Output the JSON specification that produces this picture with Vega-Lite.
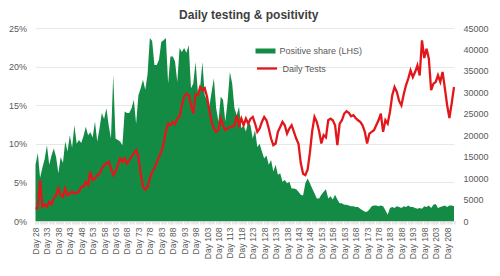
{
  "$schema": "https://vega.github.io/schema/vega-lite/v6.json",
  "width": 418.5,
  "height": 193,
  "autosize": {"type": "none"},
  "padding": {"left": 35.5, "top": 28, "right": 46, "bottom": 55},
  "background": "white",
  "title": {
    "text": "Daily testing & positivity",
    "font": "Liberation Sans",
    "fontSize": 12,
    "fontWeight": "bold",
    "color": "#404040",
    "offset": 2,
    "dx": 4
  },
  "config": {
    "view": {"stroke": null},
    "font": "Liberation Sans"
  },
  "data": {
    "values": [
      {"day": "Day 28", "pos": 7.3, "tests": 2950},
      {"day": "Day 29", "pos": 8.8, "tests": 3000},
      {"day": "Day 30", "pos": 5.6, "tests": 9540},
      {"day": "Day 31", "pos": 6.9, "tests": 3330},
      {"day": "Day 32", "pos": 8.0, "tests": 3880},
      {"day": "Day 33", "pos": 9.8, "tests": 3330},
      {"day": "Day 34", "pos": 7.3, "tests": 4490},
      {"day": "Day 35", "pos": 8.5, "tests": 3880},
      {"day": "Day 36", "pos": 9.4, "tests": 5270},
      {"day": "Day 37", "pos": 8.3, "tests": 6000},
      {"day": "Day 38", "pos": 6.2, "tests": 7600},
      {"day": "Day 39", "pos": 8.3, "tests": 6000},
      {"day": "Day 40", "pos": 7.5, "tests": 5640},
      {"day": "Day 41", "pos": 10.3, "tests": 7600},
      {"day": "Day 42", "pos": 9.0, "tests": 6000},
      {"day": "Day 43", "pos": 11.1, "tests": 6440},
      {"day": "Day 44", "pos": 9.5, "tests": 6820},
      {"day": "Day 45", "pos": 12.4, "tests": 6440},
      {"day": "Day 46", "pos": 10.0, "tests": 6600},
      {"day": "Day 47", "pos": 10.5, "tests": 6820},
      {"day": "Day 48", "pos": 10.1, "tests": 7980},
      {"day": "Day 49", "pos": 11.0, "tests": 8000},
      {"day": "Day 50", "pos": 12.2, "tests": 9150},
      {"day": "Day 51", "pos": 11.1, "tests": 8370},
      {"day": "Day 52", "pos": 11.5, "tests": 11470},
      {"day": "Day 53", "pos": 10.8, "tests": 9540},
      {"day": "Day 54", "pos": 12.9, "tests": 9930},
      {"day": "Day 55", "pos": 10.3, "tests": 10700},
      {"day": "Day 56", "pos": 12.0, "tests": 11000},
      {"day": "Day 57", "pos": 14.0, "tests": 12260},
      {"day": "Day 58", "pos": 13.2, "tests": 13030},
      {"day": "Day 59", "pos": 14.6, "tests": 13400},
      {"day": "Day 60", "pos": 12.4, "tests": 13790},
      {"day": "Day 61", "pos": 10.7, "tests": 12260},
      {"day": "Day 62", "pos": 18.9, "tests": 10700},
      {"day": "Day 63", "pos": 10.7, "tests": 11470},
      {"day": "Day 64", "pos": 10.5, "tests": 13030},
      {"day": "Day 65", "pos": 10.3, "tests": 14580},
      {"day": "Day 66", "pos": 9.8, "tests": 13790},
      {"day": "Day 67", "pos": 14.2, "tests": 14580},
      {"day": "Day 68", "pos": 14.0, "tests": 13400},
      {"day": "Day 69", "pos": 14.0, "tests": 14200},
      {"day": "Day 70", "pos": 14.6, "tests": 14970},
      {"day": "Day 71", "pos": 15.7, "tests": 15750},
      {"day": "Day 72", "pos": 12.6, "tests": 16510},
      {"day": "Day 73", "pos": 16.3, "tests": 14970},
      {"day": "Day 74", "pos": 17.2, "tests": 11000},
      {"day": "Day 75", "pos": 18.3, "tests": 8000},
      {"day": "Day 76", "pos": 17.0, "tests": 7300},
      {"day": "Day 77", "pos": 19.0, "tests": 8000},
      {"day": "Day 78", "pos": 23.7, "tests": 9930},
      {"day": "Day 79", "pos": 23.3, "tests": 11500},
      {"day": "Day 80", "pos": 20.2, "tests": 12260},
      {"day": "Day 81", "pos": 20.2, "tests": 13600},
      {"day": "Day 82", "pos": 20.9, "tests": 14960},
      {"day": "Day 83", "pos": 23.2, "tests": 16120},
      {"day": "Day 84", "pos": 23.4, "tests": 18000},
      {"day": "Day 85", "pos": 23.7, "tests": 21000},
      {"day": "Day 86", "pos": 17.8, "tests": 22720},
      {"day": "Day 87", "pos": 21.3, "tests": 22330},
      {"day": "Day 88", "pos": 21.3, "tests": 23100},
      {"day": "Day 89", "pos": 20.7, "tests": 22600},
      {"day": "Day 90", "pos": 18.0, "tests": 23880},
      {"day": "Day 91", "pos": 22.4, "tests": 24300},
      {"day": "Day 92", "pos": 21.9, "tests": 26980},
      {"day": "Day 93", "pos": 22.4, "tests": 28920},
      {"day": "Day 94", "pos": 21.8, "tests": 29700},
      {"day": "Day 95", "pos": 22.8, "tests": 29310},
      {"day": "Day 96", "pos": 17.2, "tests": 26980},
      {"day": "Day 97", "pos": 17.8, "tests": 25050},
      {"day": "Day 98", "pos": 20.6, "tests": 29500},
      {"day": "Day 99", "pos": 16.7, "tests": 29310},
      {"day": "Day 100", "pos": 17.4, "tests": 31240},
      {"day": "Day 101", "pos": 20.6, "tests": 30500},
      {"day": "Day 102", "pos": 16.3, "tests": 31000},
      {"day": "Day 103", "pos": 15.7, "tests": 29000},
      {"day": "Day 104", "pos": 14.8, "tests": 25800},
      {"day": "Day 105", "pos": 16.7, "tests": 23100},
      {"day": "Day 106", "pos": 18.5, "tests": 21560},
      {"day": "Day 107", "pos": 14.6, "tests": 20780},
      {"day": "Day 108", "pos": 12.9, "tests": 21170},
      {"day": "Day 109", "pos": 16.1, "tests": 23880},
      {"day": "Day 110", "pos": 15.7, "tests": 22330},
      {"day": "Day 111", "pos": 12.9, "tests": 21170},
      {"day": "Day 112", "pos": 15.5, "tests": 21560},
      {"day": "Day 113", "pos": 19.3, "tests": 21940},
      {"day": "Day 114", "pos": 17.8, "tests": 21940},
      {"day": "Day 115", "pos": 14.6, "tests": 22330},
      {"day": "Day 116", "pos": 13.7, "tests": 24660},
      {"day": "Day 117", "pos": 14.8, "tests": 22330},
      {"day": "Day 118", "pos": 12.0, "tests": 23880},
      {"day": "Day 119", "pos": 12.4, "tests": 22330},
      {"day": "Day 120", "pos": 11.6, "tests": 23880},
      {"day": "Day 121", "pos": 12.9, "tests": 22720},
      {"day": "Day 122", "pos": 12.4, "tests": 23800},
      {"day": "Day 123", "pos": 10.7, "tests": 24260},
      {"day": "Day 124", "pos": 11.8, "tests": 22720},
      {"day": "Day 125", "pos": 9.6, "tests": 20780},
      {"day": "Day 126", "pos": 10.0, "tests": 21560},
      {"day": "Day 127", "pos": 9.0, "tests": 23100},
      {"day": "Day 128", "pos": 8.1, "tests": 24260},
      {"day": "Day 129", "pos": 8.5, "tests": 23490},
      {"day": "Day 130", "pos": 7.3, "tests": 21560},
      {"day": "Day 131", "pos": 7.9, "tests": 19230},
      {"day": "Day 132", "pos": 6.4, "tests": 17680},
      {"day": "Day 133", "pos": 7.3, "tests": 18060},
      {"day": "Day 134", "pos": 6.0, "tests": 20780},
      {"day": "Day 135", "pos": 6.2, "tests": 21940},
      {"day": "Day 136", "pos": 5.1, "tests": 23100},
      {"day": "Day 137", "pos": 5.3, "tests": 22330},
      {"day": "Day 138", "pos": 4.9, "tests": 20390},
      {"day": "Day 139", "pos": 5.1, "tests": 21560},
      {"day": "Day 140", "pos": 4.2, "tests": 22330},
      {"day": "Day 141", "pos": 4.2, "tests": 20780},
      {"day": "Day 142", "pos": 4.1, "tests": 19230},
      {"day": "Day 143", "pos": 3.8, "tests": 18000},
      {"day": "Day 144", "pos": 3.4, "tests": 13500},
      {"day": "Day 145", "pos": 3.3, "tests": 11000},
      {"day": "Day 146", "pos": 4.9, "tests": 10700},
      {"day": "Day 147", "pos": 5.5, "tests": 12000},
      {"day": "Day 148", "pos": 4.9, "tests": 16000},
      {"day": "Day 149", "pos": 4.2, "tests": 21000},
      {"day": "Day 150", "pos": 3.6, "tests": 24260},
      {"day": "Day 151", "pos": 2.9, "tests": 23100},
      {"day": "Day 152", "pos": 2.9, "tests": 21000},
      {"day": "Day 153", "pos": 3.4, "tests": 18060},
      {"day": "Day 154", "pos": 3.8, "tests": 20000},
      {"day": "Day 155", "pos": 4.1, "tests": 19500},
      {"day": "Day 156", "pos": 2.9, "tests": 23490},
      {"day": "Day 157", "pos": 3.2, "tests": 23880},
      {"day": "Day 158", "pos": 2.8, "tests": 23490},
      {"day": "Day 159", "pos": 3.4, "tests": 22330},
      {"day": "Day 160", "pos": 2.8, "tests": 17680},
      {"day": "Day 161", "pos": 2.3, "tests": 22720},
      {"day": "Day 162", "pos": 2.3, "tests": 23490},
      {"day": "Day 163", "pos": 2.1, "tests": 25050},
      {"day": "Day 164", "pos": 2.1, "tests": 25600},
      {"day": "Day 165", "pos": 2.0, "tests": 25200},
      {"day": "Day 166", "pos": 1.9, "tests": 24400},
      {"day": "Day 167", "pos": 1.9, "tests": 24660},
      {"day": "Day 168", "pos": 1.8, "tests": 24000},
      {"day": "Day 169", "pos": 1.8, "tests": 23490},
      {"day": "Day 170", "pos": 1.6, "tests": 23100},
      {"day": "Day 171", "pos": 1.4, "tests": 22330},
      {"day": "Day 172", "pos": 1.2, "tests": 20780},
      {"day": "Day 173", "pos": 1.2, "tests": 18060},
      {"day": "Day 174", "pos": 1.5, "tests": 20390},
      {"day": "Day 175", "pos": 1.9, "tests": 20780},
      {"day": "Day 176", "pos": 2.0, "tests": 21170},
      {"day": "Day 177", "pos": 2.0, "tests": 22330},
      {"day": "Day 178", "pos": 1.9, "tests": 23490},
      {"day": "Day 179", "pos": 2.0, "tests": 25050},
      {"day": "Day 180", "pos": 1.9, "tests": 20780},
      {"day": "Day 181", "pos": 1.4, "tests": 23490},
      {"day": "Day 182", "pos": 0.8, "tests": 22720},
      {"day": "Day 183", "pos": 1.7, "tests": 25440},
      {"day": "Day 184", "pos": 1.8, "tests": 29310},
      {"day": "Day 185", "pos": 1.7, "tests": 31240},
      {"day": "Day 186", "pos": 1.9, "tests": 30080},
      {"day": "Day 187", "pos": 1.8, "tests": 28000},
      {"day": "Day 188", "pos": 1.7, "tests": 26980},
      {"day": "Day 189", "pos": 1.9, "tests": 29500},
      {"day": "Day 190", "pos": 1.8, "tests": 31630},
      {"day": "Day 191", "pos": 2.0, "tests": 33190},
      {"day": "Day 192", "pos": 1.8, "tests": 35120},
      {"day": "Day 193", "pos": 1.8, "tests": 33560},
      {"day": "Day 194", "pos": 1.7, "tests": 34740},
      {"day": "Day 195", "pos": 1.6, "tests": 36290},
      {"day": "Day 196", "pos": 1.7, "tests": 33950},
      {"day": "Day 197", "pos": 1.6, "tests": 42100},
      {"day": "Day 198", "pos": 1.9, "tests": 38000},
      {"day": "Day 199", "pos": 1.8, "tests": 40170},
      {"day": "Day 200", "pos": 2.0, "tests": 37840},
      {"day": "Day 201", "pos": 1.7, "tests": 30500},
      {"day": "Day 202", "pos": 2.1, "tests": 32030},
      {"day": "Day 203", "pos": 2.2, "tests": 32420},
      {"day": "Day 204", "pos": 1.7, "tests": 33960},
      {"day": "Day 205", "pos": 1.8, "tests": 32420},
      {"day": "Day 206", "pos": 1.9, "tests": 34740},
      {"day": "Day 207", "pos": 2.0, "tests": 31000},
      {"day": "Day 208", "pos": 1.8, "tests": 27000},
      {"day": "Day 209", "pos": 2.0, "tests": 24000},
      {"day": "Day 210", "pos": 2.0, "tests": 27500},
      {"day": "Day 211", "pos": 1.9, "tests": 31240}
    ]
  },
  "encoding": {
    "x": {
      "field": "day",
      "type": "ordinal",
      "sort": null,
      "scale": {"type": "point", "padding": 0},
      "axis": {
        "title": null,
        "labelAngle": -90,
        "labelExpr": "(toNumber(slice(datum.value, 4)) - 28) % 5 == 0 ? datum.value : ''",
        "labelOverlap": false,
        "labelFontSize": 8.5,
        "labelColor": "#595959",
        "labelPadding": 3,
        "domainColor": "#d0d0d0",
        "tickColor": "#d0d0d0",
        "tickSize": 3,
        "grid": false
      }
    }
  },
  "layer": [
    {
      "mark": {"type": "area", "interpolate": "linear"},
      "encoding": {
        "y": {
          "field": "pos",
          "type": "quantitative",
          "scale": {"domain": [0, 25], "nice": false},
          "axis": {
            "title": null,
            "orient": "left",
            "values": [0, 5, 10, 15, 20, 25],
            "labelExpr": "datum.value + '%'",
            "labelFontSize": 9,
            "labelColor": "#595959",
            "labelPadding": 9,
            "ticks": false,
            "domain": false,
            "grid": true,
            "gridColor": "#e8e8e8"
          }
        },
        "color": {
          "datum": "Positive share (LHS)",
          "scale": {"range": ["#148b45"]},
          "legend": {
            "title": null,
            "orient": "none",
            "legendX": 220,
            "legendY": 13,
            "symbolType": "M-1,-0.25H1V0.25H-1Z",
            "symbolSize": 400,
            "symbolStrokeWidth": 0,
            "labelFontSize": 9,
            "labelColor": "#595959"
          }
        }
      }
    },
    {
      "mark": {"type": "line", "strokeWidth": 2.3, "interpolate": "linear"},
      "encoding": {
        "y": {
          "field": "tests",
          "type": "quantitative",
          "scale": {"domain": [0, 45000], "nice": false},
          "axis": {
            "title": null,
            "orient": "right",
            "values": [0, 5000, 10000, 15000, 20000, 25000, 30000, 35000, 40000, 45000],
            "format": "d",
            "labelFontSize": 9,
            "labelColor": "#595959",
            "labelPadding": 9,
            "ticks": false,
            "domain": false,
            "grid": false
          }
        },
        "color": {
          "datum": "Daily Tests",
          "scale": {"range": ["#e3171b"]},
          "legend": {
            "title": null,
            "orient": "none",
            "legendX": 220,
            "legendY": 29,
            "symbolType": "stroke",
            "symbolSize": 400,
            "symbolStrokeWidth": 2.3,
            "labelFontSize": 9,
            "labelColor": "#595959"
          }
        }
      }
    }
  ],
  "resolve": {"scale": {"y": "independent", "color": "independent"}}
}
